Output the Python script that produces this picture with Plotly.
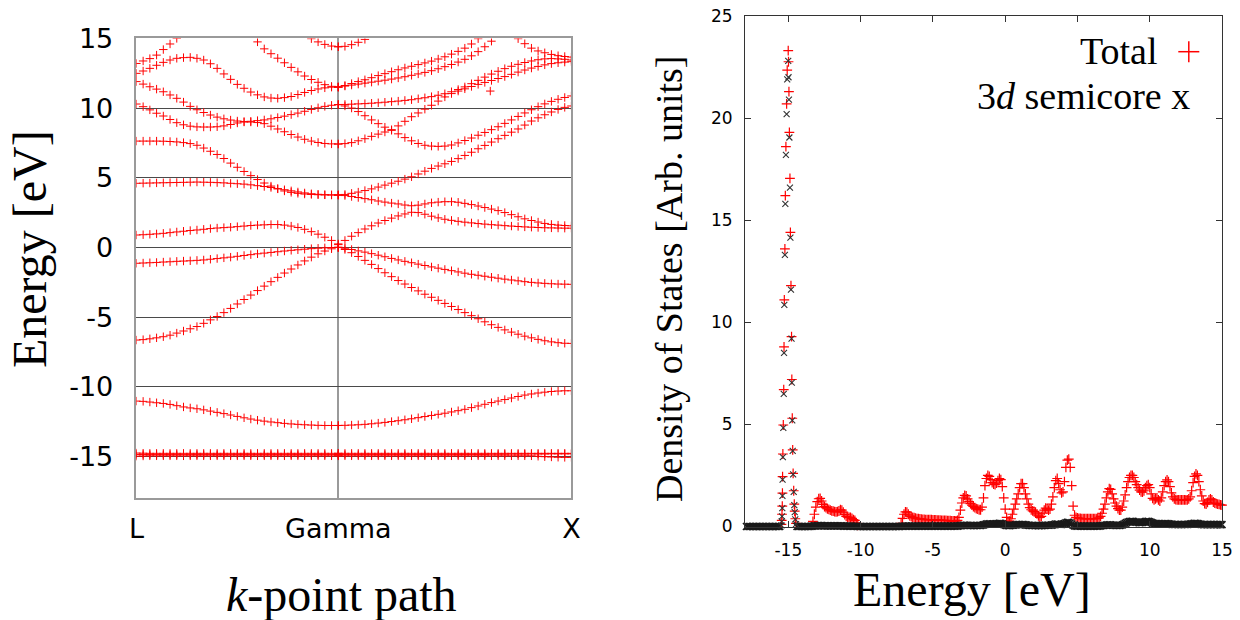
import numpy as np
import plotly.graph_objects as go

W, H = 1240, 620
N = None

# ---------------- band structure data ----------------
K_L, K_GAMMA, K_X = 0.0, 0.866, 1.866
K_TICK_TEXT = ["L", "Gamma", "X"]
N_LG, N_GX = 31, 36

BANDS_LG = [
    [13.2, 13.38, 13.55, 13.8, 14.2, 14.6, 15.0, N, N, N, N, N, N, N, N, N, N, N, N, N, N, N, N, N, N, N, N, N, N, N, N],
    [12.49, 12.66, 12.85, 13.07, 13.28, 13.45, 13.57, 13.62, 13.64, 13.57, 13.45, 13.18, 12.85, 12.45, 12.06, 11.7,
     11.42, 11.15, 10.95, 10.8, 10.72, 10.7, 10.75, 10.83, 10.97, 11.12, 11.26, 11.37, 11.45, 11.5, 11.51],
    [11.9, 11.72, 11.53, 11.36, 11.17, 10.94, 10.7, 10.43, 10.12, 9.88, 9.68, 9.5, 9.35, 9.23, 9.14, 9.07,
     9.03, 9.0, 8.96, 8.88, 8.7, 8.5, 8.3, 8.1, 7.92, 7.76, 7.63, 7.53, 7.46, 7.43, 7.42],
    [10.29, 10.1, 9.87, 9.63, 9.43, 9.18, 8.95, 8.8, 8.7, 8.65, 8.64, 8.64, 8.66, 8.72, 8.82, 8.93,
     9.0, 9.05, 9.1, 9.15, 9.23, 9.32, 9.42, 9.53, 9.64, 9.77, 9.9, 10.02, 10.12, 10.2, 10.25],
    [7.63, 7.63, 7.63, 7.63, 7.62, 7.6, 7.57, 7.52, 7.45, 7.33, 7.13, 6.9, 6.67, 6.38, 6.05, 5.75,
     5.45, 5.15, 4.87, 4.62, 4.4, 4.2, 4.05, 3.95, 3.88, 3.83, 3.8, 3.78, 3.77, 3.76, 3.76],
    [4.6, 4.61, 4.62, 4.63, 4.64, 4.65, 4.66, 4.67, 4.68, 4.69, 4.68, 4.67, 4.65, 4.63, 4.6, 4.57,
     4.54, 4.49, 4.43, 4.37, 4.3, 4.22, 4.14, 4.06, 3.98, 3.91, 3.85, 3.81, 3.78, 3.77, 3.76],
    [0.89, 0.91, 0.94, 0.97, 1.01, 1.06, 1.11, 1.16, 1.21, 1.25, 1.3, 1.35, 1.39, 1.42, 1.45, 1.49,
     1.53, 1.57, 1.6, 1.62, 1.64, 1.64, 1.6, 1.53, 1.43, 1.3, 1.13, 0.95, 0.73, 0.5, 0.25],
    [-1.14, -1.12, -1.1, -1.08, -1.05, -1.03, -1.0, -0.98, -0.96, -0.93, -0.9, -0.85, -0.8, -0.75, -0.7, -0.64,
     -0.58, -0.52, -0.46, -0.41, -0.36, -0.31, -0.26, -0.21, -0.17, -0.13, -0.09, -0.06, -0.03, -0.01, 0.0],
    [-6.65, -6.62, -6.56, -6.49, -6.41, -6.3, -6.15, -6.0, -5.84, -5.68, -5.45, -5.2, -4.96, -4.68, -4.38, -4.06,
     -3.74, -3.42, -3.1, -2.78, -2.46, -2.15, -1.84, -1.55, -1.26, -0.97, -0.7, -0.46, -0.26, -0.1, 0.0],
    [-11.03, -11.05, -11.1, -11.15, -11.2, -11.27, -11.36, -11.45, -11.52, -11.58, -11.66, -11.75, -11.84, -11.93,
     -12.03, -12.13, -12.23, -12.32, -12.4, -12.47, -12.53, -12.58, -12.63, -12.67, -12.7, -12.73, -12.75, -12.77,
     -12.78, -12.78, -12.78],
    [N, N, N, N, N, N, N, N, N, N, N, N, N, N, N, N, N, N, 14.75, 14.25, 13.9, 13.58, 13.25, 12.92, 12.6, 12.3,
     12.05, 11.85, 11.68, 11.56, 11.51],
    [N, N, N, N, N, N, N, N, N, N, N, N, N, N, N, N, N, N, N, N, N, N, N, N, N, N, 14.98, 14.75, 14.57, 14.45, 14.4],
    [-14.76, -14.77, -14.78, -14.78, -14.78, -14.78, -14.78, -14.78, -14.78, -14.78, -14.78, -14.78, -14.78, -14.78,
     -14.78, -14.78, -14.78, -14.78, -14.78, -14.78, -14.78, -14.78, -14.78, -14.78, -14.78, -14.78, -14.78, -14.78,
     -14.78, -14.78, -14.78],
    [-14.86, -14.86, -14.87, -14.87, -14.87, -14.87, -14.87, -14.87, -14.87, -14.87, -14.87, -14.87, -14.87, -14.87,
     -14.87, -14.87, -14.87, -14.87, -14.87, -14.87, -14.87, -14.87, -14.87, -14.87, -14.87, -14.87, -14.87, -14.87,
     -14.87, -14.87, -14.87],
    [-14.98, -14.97, -14.96, -14.96, -14.96, -14.96, -14.96, -14.96, -14.96, -14.96, -14.96, -14.96, -14.96, -14.96,
     -14.96, -14.96, -14.96, -14.96, -14.96, -14.96, -14.96, -14.96, -14.96, -14.96, -14.96, -14.96, -14.96, -14.96,
     -14.96, -14.96, -14.96],
]

BANDS_GX = [
    [14.4, 14.43, 14.55, 14.72, 14.93, N, N, N, N, N, N, N, N, N, N, N, N, N, N, N, N, N, N, N, N, N, N, N, N, N,
     N, N, N, N, N, N],
    [11.51, 11.62, 11.76, 11.9, 12.03, 12.18, 12.33, 12.47, 12.61, 12.75, 12.88, 13.0, 13.12, 13.24, 13.37, 13.52,
     13.68, 13.87, 14.07, 14.3, 14.6, 14.98, N, N, N, N, N, N, N, N, N, N, N, N, N, N],
    [11.51, 11.58, 11.65, 11.72, 11.79, 11.86, 11.93, 12.0, 12.08, 12.16, 12.25, 12.35, 12.45, 12.56, 12.68, 12.82,
     12.97, 13.13, 13.3, 13.5, 13.75, 14.05, 14.4, 14.8, N, N, N, N, N, N, N, N, N, N, N, N],
    [10.25, 10.26, 10.28, 10.3, 10.32, 10.35, 10.38, 10.42, 10.46, 10.5, 10.55, 10.6, 10.67, 10.74, 10.82, 10.92,
     11.03, 11.17, 11.33, 11.52, 11.75, 11.99, 12.22, 12.44, 12.64, 12.83, 13.0, 13.14, 13.27, 13.38, 13.47, 13.53,
     13.55, 13.53, 13.5, 13.45],
    [7.42, 7.45, 7.52, 7.65, 7.8, 7.97, 8.13, 8.28, 8.45, 8.72, 9.05, 9.38, 9.65, 9.92, 10.2, 10.5,
     10.8, 11.04, 11.22, 11.38, 11.55, 11.7, 11.84, 11.98, 12.12, 12.26, 12.42, 12.58, 12.73, 12.87, 12.99, 13.1,
     13.19, 13.25, 13.3, 13.33],
    [10.25, 10.15, 10.0, 9.75, 9.45, 9.15, 8.88, 8.63, 8.4, 8.15, 7.88, 7.65, 7.46, 7.33, 7.27, 7.25,
     7.27, 7.35, 7.5, 7.67, 7.85, 8.05, 8.25, 8.45, 8.66, 8.9, 9.15, 9.4, 9.65, 9.88, 10.1, 10.3,
     10.48, 10.63, 10.76, 10.87],
    [3.76, 3.8, 3.88, 3.97, 4.08, 4.2, 4.33, 4.47, 4.61, 4.75, 4.9, 5.07, 5.27, 5.47, 5.67, 5.84,
     6.0, 6.17, 6.37, 6.6, 6.83, 7.08, 7.32, 7.56, 7.8, 8.04, 8.27, 8.5, 8.78, 9.07, 9.3, 9.52,
     9.72, 9.9, 10.05, 10.15],
    [3.76, 3.72, 3.65, 3.58, 3.5, 3.42, 3.33, 3.25, 3.18, 3.12, 3.04, 2.99, 3.03, 3.12, 3.2, 3.25,
     3.28, 3.28, 3.24, 3.16, 3.07, 2.97, 2.86, 2.75, 2.64, 2.5, 2.35, 2.2, 2.05, 1.93, 1.82, 1.72,
     1.65, 1.6, 1.57, 1.55],
    [0.2, 0.5, 0.8, 1.06, 1.32, 1.55, 1.75, 1.93, 2.1, 2.26, 2.4, 2.52, 2.5, 2.38, 2.24, 2.12,
     2.02, 1.94, 1.87, 1.81, 1.76, 1.71, 1.67, 1.63, 1.6, 1.56, 1.53, 1.5, 1.47, 1.45, 1.43, 1.41,
     1.4, 1.39, 1.38, 1.38],
    [0.0, -0.06, -0.15, -0.25, -0.34, -0.45, -0.56, -0.67, -0.79, -0.9, -1.0, -1.1, -1.2, -1.3, -1.4, -1.49,
     -1.58, -1.67, -1.76, -1.85, -1.93, -2.0, -2.07, -2.14, -2.21, -2.28, -2.34, -2.4, -2.46, -2.51, -2.55, -2.58,
     -2.61, -2.63, -2.64, -2.65],
    [0.0, -0.15, -0.38, -0.65, -0.93, -1.22, -1.52, -1.82, -2.1, -2.38, -2.63, -2.88, -3.12, -3.36, -3.58, -3.8,
     -4.02, -4.24, -4.46, -4.68, -4.9, -5.12, -5.34, -5.55, -5.74, -5.92, -6.08, -6.23, -6.37, -6.49, -6.6, -6.7,
     -6.78, -6.84, -6.88, -6.89],
    [-12.78, -12.77, -12.75, -12.73, -12.7, -12.66, -12.61, -12.56, -12.5, -12.44, -12.37, -12.3, -12.22, -12.14,
     -12.06, -11.98, -11.9, -11.81, -11.72, -11.62, -11.5, -11.38, -11.26, -11.14, -11.03, -10.92, -10.81, -10.7,
     -10.6, -10.52, -10.45, -10.39, -10.34, -10.31, -10.29, -10.29],
    [N, N, N, N, N, N, N, N, N, N, N, N, N, N, N, N, N, N, N, N, N, N, N, N, N, N, N, 14.98, 14.62, 14.3, 14.1,
     13.97, 13.85, 13.76, 13.7, 13.66],
    [-14.78, -14.78, -14.78, -14.78, -14.78, -14.78, -14.78, -14.78, -14.78, -14.78, -14.78, -14.78, -14.78, -14.78,
     -14.78, -14.78, -14.78, -14.78, -14.78, -14.78, -14.78, -14.78, -14.78, -14.78, -14.78, -14.78, -14.78, -14.78,
     -14.78, -14.78, -14.78, -14.78, -14.78, -14.78, -14.78, -14.78],
    [-14.87, -14.87, -14.87, -14.87, -14.87, -14.87, -14.87, -14.87, -14.87, -14.87, -14.87, -14.87, -14.87, -14.87,
     -14.87, -14.87, -14.87, -14.87, -14.87, -14.86, -14.86, -14.86, -14.86, -14.85, -14.85, -14.85, -14.84, -14.84,
     -14.84, -14.83, -14.83, -14.83, -14.82, -14.82, -14.82, -14.82],
    [-14.96, -14.96, -14.96, -14.96, -14.96, -14.96, -14.96, -14.96, -14.96, -14.96, -14.96, -14.96, -14.96, -14.96,
     -14.96, -14.96, -14.96, -14.96, -14.96, -14.96, -14.96, -14.96, -14.96, -14.96, -14.96, -14.96, -14.96, -14.96,
     -14.96, -14.96, -14.99, -15.02, -15.04, -15.06, -15.07, -15.07],
]

STRAY_K = [1.518]
STRAY_E = [11.22]

ENERGY_TICKS = [-15, -10, -5, 0, 5, 10, 15]
DOS_Y_TICKS = [0, 5, 10, 15, 20, 25]

# ---------------- density of states data ----------------
# regular grid: -17.9 ... 15.0 eV, step 0.1 (33 rows of 10); None = covered by the fine core points
DOS_E_START, DOS_E_STEP = -17.9, 0.1
DOS_TOTAL = [
    0, 0, 0, 0, 0, 0, 0, 0, 0, 0,                                   # -17.9..-17.0
    0, 0, 0, 0, 0, 0, 0, 0, 0, 0,                                   # -16.9..-16.0
    0, 0, 0, 0, N, N, N, N, N, N,                                   # -15.9..-15.0
    N, N, N, N, N, 0, 0, 0, 0, 0,                                   # -14.9..-14.0
    0, 0, 0, 0, 0, 0.0, 0.25, 0.6, 0.95, 1.22,                      # -13.9..-13.0
    1.36, 1.38, 1.25, 1.08, 0.98, 0.92, 0.87, 0.84, 0.8, 0.77,      # -12.9..-12.0
    0.75, 0.73, 0.72, 0.73, 0.76, 0.82, 0.8, 0.7, 0.58, 0.5,        # -11.9..-11.0
    0.46, 0.45, 0.44, 0.4, 0.34, 0.3, 0.18, 0.06, 0, 0,             # -10.9..-10.0
    0, 0, 0, 0, 0, 0, 0, 0, 0, 0,                                   # -9.9..-9.0
    0, 0, 0, 0, 0, 0, 0, 0, 0, 0,                                   # -8.9..-8.0
    0, 0, 0, 0, 0, 0, 0, 0.15, 0.4, 0.6,                            # -7.9..-7.0
    0.72, 0.7, 0.6, 0.52, 0.48, 0.45, 0.43, 0.41, 0.39, 0.38,       # -6.9..-6.0
    0.37, 0.36, 0.35, 0.35, 0.34, 0.34, 0.33, 0.33, 0.33, 0.32,     # -5.9..-5.0
    0.32, 0.32, 0.31, 0.31, 0.31, 0.3, 0.3, 0.3, 0.3, 0.29,         # -4.9..-4.0
    0.29, 0.29, 0.28, 0.28, 0.28, 0.28, 0.3, 0.45, 0.8, 1.15,       # -3.9..-3.0
    1.4, 1.52, 1.5, 1.35, 1.22, 1.12, 1.05, 0.98, 0.92, 0.88,       # -2.9..-2.0
    0.85, 0.82, 0.82, 0.95, 1.4, 2.0, 2.35, 2.5, 2.45, 2.3,         # -1.9..-1.0
    2.15, 2.08, 2.05, 2.12, 2.25, 2.35, 2.3, 1.95, 1.4, 0.85,       # -0.9..0.0
    0.45, 0.25, 0.26, 0.38, 0.6, 0.85, 1.1, 1.35, 1.6, 1.9,         # 0.1..1.0
    2.1, 2.1, 1.9, 1.6, 1.35, 1.1, 0.92, 0.82, 0.77, 0.74,          # 1.1..2.0
    0.7, 0.62, 0.52, 0.45, 0.5, 0.65, 0.8, 0.9, 0.86, 0.8,          # 2.1..3.0
    0.85, 1.1, 1.45, 1.9, 2.25, 2.35, 2.1, 1.8, 1.65, 1.7,          # 3.1..4.0
    2.2, 2.9, 3.25, 3.3, 2.9, 2.0, 1.0, 0.55, 0.45, 0.42,           # 4.1..5.0
    0.4, 0.4, 0.39, 0.39, 0.38, 0.38, 0.38, 0.38, 0.38, 0.38,       # 5.1..6.0
    0.38, 0.38, 0.39, 0.4, 0.42, 0.5, 0.65, 0.85, 1.1, 1.4,         # 6.1..7.0
    1.7, 1.85, 1.82, 1.6, 1.35, 1.15, 1.0, 0.88, 0.8, 0.8,          # 7.1..8.0
    0.95, 1.25, 1.55, 1.9, 2.2, 2.4, 2.5, 2.5, 2.4, 2.2,            # 8.1..9.0
    2.05, 1.9, 1.78, 1.7, 1.68, 1.75, 1.9, 2.0, 2.05, 1.9,          # 9.1..10.0
    1.6, 1.38, 1.3, 1.35, 1.4, 1.3, 1.25, 1.4, 1.7, 2.0,            # 10.1..11.0
    2.2, 2.28, 2.2, 1.95, 1.65, 1.45, 1.35, 1.32, 1.3, 1.3,         # 11.1..12.0
    1.3, 1.3, 1.3, 1.3, 1.3, 1.3, 1.35, 1.45, 1.75, 2.15,           # 12.1..13.0
    2.45, 2.58, 2.5, 2.2, 1.8, 1.5, 1.25, 1.12, 1.1, 1.18,          # 13.1..14.0
    1.3, 1.35, 1.3, 1.2, 1.15, 1.12, 1.1, 1.08, 1.06, 1.05,         # 14.1..15.0
]
DOS_3D = [
    0, 0, 0, 0, 0, 0, 0, 0, 0, 0,
    0, 0, 0, 0, 0, 0, 0, 0, 0, 0,
    0, 0, 0, 0, N, N, N, N, N, N,
    N, N, N, N, N, 0, 0, 0, 0, 0,
    0, 0, 0, 0, 0, 0.01, 0.02, 0.03, 0.03, 0.04,
    0.04, 0.04, 0.04, 0.03, 0.03, 0.03, 0.03, 0.03, 0.03, 0.03,
    0.03, 0.03, 0.03, 0.03, 0.03, 0.03, 0.03, 0.02, 0.02, 0.02,
    0.02, 0.02, 0.02, 0.02, 0.01, 0.01, 0.01, 0, 0, 0,
    0, 0, 0, 0, 0, 0, 0, 0, 0, 0,
    0, 0, 0, 0, 0, 0, 0, 0, 0, 0,
    0, 0, 0, 0, 0, 0, 0, 0.01, 0.01, 0.02,
    0.02, 0.02, 0.02, 0.02, 0.02, 0.02, 0.02, 0.02, 0.02, 0.02,
    0.02, 0.02, 0.02, 0.02, 0.02, 0.02, 0.02, 0.02, 0.02, 0.02,
    0.02, 0.02, 0.02, 0.02, 0.02, 0.02, 0.02, 0.02, 0.02, 0.02,
    0.02, 0.02, 0.02, 0.02, 0.02, 0.02, 0.02, 0.03, 0.04, 0.05,
    0.06, 0.06, 0.06, 0.05, 0.05, 0.05, 0.05, 0.05, 0.05, 0.05,
    0.05, 0.05, 0.05, 0.06, 0.08, 0.1, 0.12, 0.13, 0.13, 0.13,
    0.12, 0.12, 0.12, 0.13, 0.14, 0.15, 0.15, 0.13, 0.1, 0.07,
    0.05, 0.04, 0.04, 0.05, 0.06, 0.07, 0.08, 0.09, 0.1, 0.1,
    0.1, 0.1, 0.09, 0.08, 0.07, 0.06, 0.05, 0.05, 0.05, 0.05,
    0.05, 0.05, 0.04, 0.04, 0.04, 0.05, 0.05, 0.06, 0.06, 0.06,
    0.06, 0.07, 0.08, 0.1, 0.12, 0.12, 0.11, 0.1, 0.1, 0.11,
    0.14, 0.18, 0.2, 0.2, 0.17, 0.12, 0.06, 0.03, 0.02, 0.02,
    0.02, 0.02, 0.02, 0.02, 0.02, 0.02, 0.02, 0.02, 0.02, 0.02,
    0.02, 0.02, 0.02, 0.02, 0.02, 0.03, 0.04, 0.05, 0.06, 0.07,
    0.08, 0.08, 0.08, 0.07, 0.06, 0.05, 0.05, 0.05, 0.05, 0.06,
    0.08, 0.11, 0.15, 0.19, 0.22, 0.24, 0.25, 0.25, 0.24, 0.22,
    0.21, 0.2, 0.19, 0.19, 0.2, 0.22, 0.24, 0.25, 0.25, 0.23,
    0.2, 0.17, 0.15, 0.14, 0.14, 0.13, 0.12, 0.12, 0.13, 0.14,
    0.14, 0.14, 0.13, 0.12, 0.11, 0.1, 0.1, 0.1, 0.1, 0.1,
    0.1, 0.1, 0.1, 0.1, 0.1, 0.1, 0.11, 0.12, 0.13, 0.14,
    0.15, 0.15, 0.14, 0.13, 0.11, 0.1, 0.09, 0.09, 0.09, 0.09,
    0.1, 0.1, 0.1, 0.1, 0.09, 0.09, 0.09, 0.09, 0.09, 0.09,
]
# fine sampling of the sharp 3d semicore peak
CORE_E = [-15.48, -15.46, -15.44, -15.42, -15.41, -15.4, -15.38, -15.35, -15.32, -15.3, -15.28, -15.24, -15.21,
          -15.17, -15.12, -15.08, -15.01, -14.99, -14.96, -14.93, -14.89, -14.86, -14.82, -14.78, -14.76, -14.73,
          -14.7, -14.67, -14.63, -14.59, -14.56, -14.52, -14.47]
CORE_TOTAL = [0.1, 0.3, 0.6, 1.0, 1.63, 2.44, 3.55, 4.97, 6.7, 8.8, 11.1, 13.6, 16.2, 18.6, 20.7, 22.35, 23.3,
              22.76, 21.3, 19.3, 17.05, 14.4, 11.8, 9.3, 7.2, 5.3, 3.75, 2.6, 1.75, 1.1, 0.75, 0.38, 0.15]
CORE_3D = [0.05, 0.25, 0.5, 0.9, 1.5, 2.3, 3.4, 4.83, 6.5, 8.5, 10.85, 13.3, 15.8, 18.2, 20.2, 21.9, 22.8,
           22.0, 20.9, 19.05, 16.6, 14.15, 11.6, 9.2, 7.05, 5.2, 3.7, 2.55, 1.7, 1.05, 0.7, 0.35, 0.12]

assert all(len(b) == N_LG for b in BANDS_LG)
assert all(len(b) == N_GX for b in BANDS_GX)
assert len(DOS_TOTAL) == 330 and len(DOS_3D) == 330, (len(DOS_TOTAL), len(DOS_3D))
assert len(CORE_E) == len(CORE_TOTAL) == len(CORE_3D)

# ---------------- figure ----------------
RED = "#ff0000"
BLK = "#1a1a1a"
SERIF = "Liberation Serif"
SANS = "DejaVu Sans"


def px(x):
    return x / W


def py(y):
    return 1 - y / H


fig = go.Figure()

k_lg = np.linspace(K_L, K_GAMMA, N_LG)
k_gx = np.linspace(K_GAMMA, K_X, N_GX)
band_marker = dict(symbol="cross-thin", size=6, color=RED, line=dict(width=1, color=RED))
for band in BANDS_LG:
    fig.add_trace(go.Scatter(x=k_lg, y=band, mode="markers", marker=band_marker,
                             xaxis="x", yaxis="y", showlegend=False, hoverinfo="skip"))
for band in BANDS_GX:
    fig.add_trace(go.Scatter(x=k_gx, y=band, mode="markers", marker=band_marker,
                             xaxis="x", yaxis="y", showlegend=False, hoverinfo="skip"))
fig.add_trace(go.Scatter(x=STRAY_K, y=STRAY_E, mode="markers", marker=band_marker,
                         xaxis="x", yaxis="y", showlegend=False, hoverinfo="skip"))

dos_e = np.round(DOS_E_START + DOS_E_STEP * np.arange(len(DOS_TOTAL)), 2)
# zero-valued total points sit underneath the black 3d markers in the original; hide them
tot_vis = [v if (v is not None and v > 0) else None for v in DOS_TOTAL]
tot_marker = dict(symbol="cross-thin", size=7, color=RED, line=dict(width=1.2, color=RED))
d_marker = dict(symbol="x-thin", size=7, color=BLK, line=dict(width=1.6, color=BLK))
fig.add_trace(go.Scatter(x=dos_e, y=tot_vis, mode="markers", marker=tot_marker, cliponaxis=False,
                         xaxis="x2", yaxis="y2", showlegend=False, hoverinfo="skip"))
fig.add_trace(go.Scatter(x=CORE_E, y=CORE_TOTAL, mode="markers", marker=tot_marker, cliponaxis=False,
                         xaxis="x2", yaxis="y2", showlegend=False, hoverinfo="skip"))
fig.add_trace(go.Scatter(x=dos_e, y=DOS_3D, mode="markers", marker=d_marker, cliponaxis=False,
                         xaxis="x2", yaxis="y2", showlegend=False, hoverinfo="skip"))
fig.add_trace(go.Scatter(x=CORE_E, y=CORE_3D, mode="markers",
                         marker=dict(symbol="x-thin", size=6, color="#333333", line=dict(width=1.1, color="#333333")),
                         cliponaxis=False, xaxis="x2", yaxis="y2", showlegend=False, hoverinfo="skip"))

fig.update_layout(
    width=W, height=H, margin=dict(l=0, r=0, t=0, b=0, autoexpand=False),
    paper_bgcolor="white", plot_bgcolor="white", showlegend=False,
    xaxis=dict(domain=[px(136.4), px(571.4)], range=[K_L, K_X], automargin=False,
               tickvals=[K_L, K_GAMMA, K_X], ticktext=K_TICK_TEXT,
               showgrid=True, gridcolor="#9a9a9a", gridwidth=1.5,
               showline=True, mirror=True, linecolor="#9a9a9a", linewidth=1.5,
               zeroline=False, ticks="", ticklabelstandoff=6,
               tickfont=dict(family=SANS, size=27, color="black"), anchor="y"),
    yaxis=dict(domain=[py(498.2), py(38.4)], range=[-18, 15], automargin=False,
               tickvals=ENERGY_TICKS, ticktext=[str(v) for v in ENERGY_TICKS],
               showgrid=True, gridcolor="#4a4a4a", gridwidth=1,
               showline=True, mirror=True, linecolor="#9a9a9a", linewidth=1.5,
               zeroline=False, ticks="", ticklabelstandoff=16,
               tickfont=dict(family=SANS, size=27, color="black"), anchor="x"),
    xaxis2=dict(domain=[px(745), px(1222)], range=[-18, 15], automargin=False,
                tickvals=ENERGY_TICKS, ticktext=[str(v) for v in ENERGY_TICKS],
                showgrid=False, zeroline=False,
                showline=True, mirror="ticks", linecolor="#333333", linewidth=1,
                ticks="inside", ticklen=6, tickcolor="#333333", ticklabelstandoff=8,
                tickfont=dict(family=SANS, size=17, color="black"), anchor="y2"),
    yaxis2=dict(domain=[py(526.5), py(16)], range=[0, 25], automargin=False,
                tickvals=DOS_Y_TICKS, ticktext=[str(v) for v in DOS_Y_TICKS],
                showgrid=False, zeroline=False,
                showline=True, mirror="ticks", linecolor="#333333", linewidth=1,
                ticks="inside", ticklen=6, tickcolor="#333333", ticklabelstandoff=8,
                tickfont=dict(family=SANS, size=17, color="black"), anchor="x2"),
)

ann = [
    dict(text="Energy [eV]", x=px(29), y=py(249), textangle=-90, font=dict(family=SERIF, size=48)),
    dict(text="<i>k</i>-point path", x=px(341), y=py(594), font=dict(family=SERIF, size=48)),
    dict(text="Density of States [Arb. units]", x=px(669), y=py(279), textangle=-90,
         font=dict(family=SERIF, size=38)),
    dict(text="Energy [eV]", x=px(972), y=py(589), font=dict(family=SERIF, size=48)),
    dict(text="Total", x=px(1160), y=py(51.2), xanchor="right", font=dict(family=SERIF, size=38)),
    dict(text="3<i>d</i> semicore x", x=px(1192), y=py(96.3), xanchor="right", font=dict(family=SERIF, size=38)),
]
for a in ann:
    a.setdefault("xanchor", "center")
    a.setdefault("yanchor", "middle")
    a["font"]["color"] = "black"
    fig.add_annotation(xref="paper", yref="paper", showarrow=False, **a)

# legend key symbol for "Total"
cx, cy, hs = 1188.8, 51.7, 10.5
fig.add_shape(type="line", xref="paper", yref="paper", x0=px(cx - hs), x1=px(cx + hs), y0=py(cy), y1=py(cy),
              line=dict(color=RED, width=1.5))
fig.add_shape(type="line", xref="paper", yref="paper", x0=px(cx), x1=px(cx), y0=py(cy - hs), y1=py(cy + hs),
              line=dict(color=RED, width=1.5))

fig.write_html("out.html")
